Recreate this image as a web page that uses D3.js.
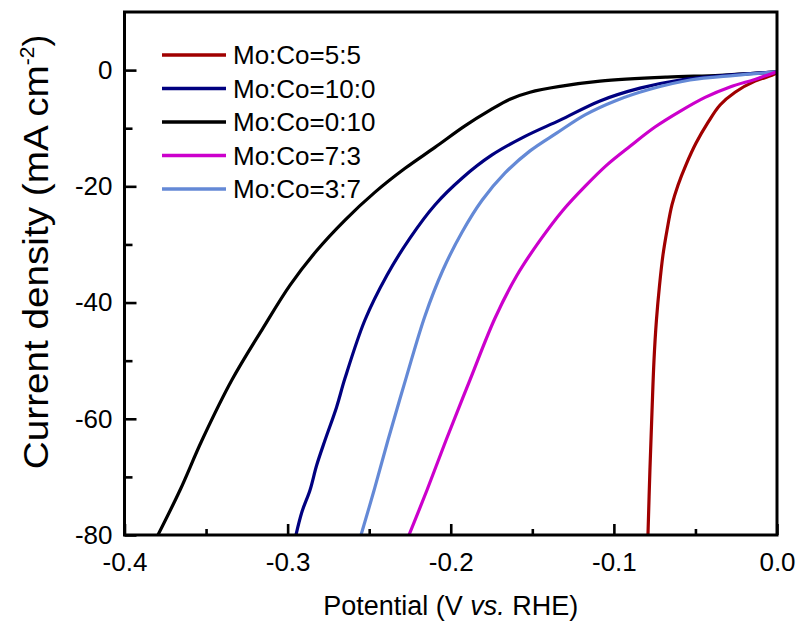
<!DOCTYPE html>
<html>
<head>
<meta charset="utf-8">
<script src="https://cdn.jsdelivr.net/npm/d3@7"></script>
<style>
  html, body { margin: 0; padding: 0; background: #fff; }
  svg { display: block; font-family: Arial, "Liberation Sans", sans-serif; }
</style>
</head>
<body>
<svg id="chart" width="802" height="623"></svg>
<script>
// Polarization curves: potential (V vs. RHE) vs. current density (mA cm^-2)
const seriesNames = ["Mo:Co=5:5", "Mo:Co=10:0", "Mo:Co=0:10", "Mo:Co=7:3", "Mo:Co=3:7"];
const seriesColors = ["#a00000", "#000080", "#000000", "#cc00cc", "#6489d6"];

// [potential, current density]
const mo5co5 = [
  [-0.0791, -80], [-0.0779, -68.8], [-0.0766, -58.5], [-0.0754, -49.9], [-0.0739, -43.0],
  [-0.0720, -37.0], [-0.0699, -31.8], [-0.0674, -27.5], [-0.0644, -23.2], [-0.0607, -19.8],
  [-0.0558, -16.3], [-0.0497, -12.6], [-0.0423, -9.0], [-0.0349, -6.0], [-0.0257, -3.8],
  [-0.0135, -1.9], [-0.0031, -0.9], [0, -0.5]
];
const mo10co0 = [
  [-0.2949, -80], [-0.2912, -76], [-0.2863, -72.3], [-0.2822, -68], [-0.2771, -63.7],
  [-0.2700, -58], [-0.2648, -53.0], [-0.2526, -43.0], [-0.2391, -35.3], [-0.2250, -28.9],
  [-0.2097, -23.2], [-0.1931, -18.6], [-0.1747, -14.6], [-0.1545, -11.4], [-0.1330, -8.6],
  [-0.1085, -5.3], [-0.0840, -3.1], [-0.0595, -1.7], [-0.0349, -1.0], [0, -0.3]
];
const mo0co10 = [
  [-0.3795, -80], [-0.3660, -72.3], [-0.3525, -63.7], [-0.3341, -53.3], [-0.3151, -44.4],
  [-0.2985, -37.0], [-0.2820, -31.0], [-0.2648, -25.8], [-0.2464, -21.0], [-0.2280, -16.9],
  [-0.2097, -13.3], [-0.1913, -9.6], [-0.1759, -6.9], [-0.1637, -5.0], [-0.1514, -3.8],
  [-0.1330, -2.8], [-0.1085, -1.9], [-0.0674, -1.2], [-0.0349, -0.9], [0, -0.3]
];
const mo7co3 = [
  [-0.2256, -80], [-0.2146, -72.3], [-0.2029, -63.7], [-0.1882, -53.3], [-0.1729, -42.7],
  [-0.1594, -35.3], [-0.1453, -29.3], [-0.1312, -24.1], [-0.1177, -20.0], [-0.1042, -16.3],
  [-0.0901, -13.1], [-0.0748, -9.8], [-0.0595, -7.1], [-0.0441, -4.7], [-0.0288, -2.9],
  [-0.0135, -1.6], [-0.0043, -0.7], [0, -0.3]
];
const mo3co7 = [
  [-0.2550, -80], [-0.2470, -72.3], [-0.2385, -63.7], [-0.2274, -53.0], [-0.2158, -42.3],
  [-0.2048, -34.4], [-0.1931, -27.9], [-0.1808, -22.4], [-0.1667, -17.7], [-0.1514, -13.9],
  [-0.1349, -10.8], [-0.1177, -7.7], [-0.0993, -5.3], [-0.0779, -3.3], [-0.0533, -1.7],
  [-0.0257, -0.9], [0, -0.3]
];
const seriesData = [mo5co5, mo10co0, mo0co10, mo7co3, mo3co7];
// drawing order (last on top)
const drawOrder = [2, 1, 4, 0, 3];

const xMajorTicks = [-0.4, -0.3, -0.2, -0.1, 0.0];
const xMinorTicks = [-0.35, -0.25, -0.15, -0.05];
const yMajorTicks = [-80, -60, -40, -20, 0];
const yMinorTicks = [-70, -50, -30, -10];

const svg = d3.select("#chart");
const plotLeft = 124.5, plotRight = 777, plotTop = 12, plotBottom = 535;

const x = d3.scaleLinear().domain([-0.4, 0]).range([plotLeft, plotRight]);
const y = d3.scaleLinear().domain([-80, 10]).range([plotBottom, plotTop]);

// plain hyphen-minus for negative tick labels
const fmtX = v => d3.format(".1f")(v).replace("\u2212", "-");
const fmtY = v => d3.format("d")(v).replace("\u2212", "-");

svg.append("defs").append("clipPath").attr("id", "plotClip")
  .append("rect").attr("x", plotLeft).attr("y", plotTop)
  .attr("width", plotRight - plotLeft).attr("height", plotBottom - plotTop);

// curves
const line = d3.line().x(d => x(d[0])).y(d => y(d[1])).curve(d3.curveCatmullRom.alpha(0.5));
const curves = svg.append("g").attr("clip-path", "url(#plotClip)");
drawOrder.forEach(i => {
  curves.append("path")
    .datum(seriesData[i])
    .attr("d", line)
    .attr("fill", "none")
    .attr("stroke", seriesColors[i])
    .attr("stroke-width", 3.2)
    .attr("stroke-linejoin", "round");
});

// bottom axis (ticks pointing inward)
const xAxis = svg.append("g").attr("transform", `translate(0,${plotBottom})`)
  .call(d3.axisBottom(x).tickValues(xMajorTicks).tickSizeInner(-11).tickSizeOuter(0)
    .tickFormat(fmtX).tickPadding(18));
xAxis.select(".domain").remove();
xAxis.selectAll(".tick line").attr("stroke", "#000").attr("stroke-width", 2.6);
xAxis.selectAll(".tick text").attr("font-size", 26).attr("fill", "#000")
  .attr("font-family", "Arial, 'Liberation Sans', sans-serif");
const xMinor = svg.append("g").attr("transform", `translate(0,${plotBottom})`)
  .call(d3.axisBottom(x).tickValues(xMinorTicks).tickSizeInner(-6).tickSizeOuter(0).tickFormat(""));
xMinor.select(".domain").remove();
xMinor.selectAll(".tick line").attr("stroke", "#000").attr("stroke-width", 2.6);

// left axis
const yAxis = svg.append("g").attr("transform", `translate(${plotLeft},0)`)
  .call(d3.axisLeft(y).tickValues(yMajorTicks).tickSizeInner(-12).tickSizeOuter(0)
    .tickFormat(fmtY).tickPadding(12));
yAxis.select(".domain").remove();
yAxis.selectAll(".tick line").attr("stroke", "#000").attr("stroke-width", 2.6);
yAxis.selectAll(".tick text").attr("font-size", 26).attr("fill", "#000")
  .attr("font-family", "Arial, 'Liberation Sans', sans-serif");
const yMinor = svg.append("g").attr("transform", `translate(${plotLeft},0)`)
  .call(d3.axisLeft(y).tickValues(yMinorTicks).tickSizeInner(-8).tickSizeOuter(0).tickFormat(""));
yMinor.select(".domain").remove();
yMinor.selectAll(".tick line").attr("stroke", "#000").attr("stroke-width", 2.6);

// frame
svg.append("rect")
  .attr("x", plotLeft).attr("y", plotTop)
  .attr("width", plotRight - plotLeft).attr("height", plotBottom - plotTop)
  .attr("fill", "none").attr("stroke", "#000").attr("stroke-width", 3);

// axis titles
const xTitle = svg.append("text")
  .attr("x", (plotLeft + plotRight) / 2).attr("y", 615)
  .attr("text-anchor", "middle").attr("font-size", 27).attr("fill", "#000");
xTitle.append("tspan").text("Potential (V ");
xTitle.append("tspan").attr("font-style", "italic").text("vs.");
xTitle.append("tspan").text(" RHE)");

const yTitle = svg.append("text")
  .attr("transform", "translate(48,252) rotate(-90)")
  .attr("text-anchor", "middle").attr("font-size", 35).attr("fill", "#000");
yTitle.append("tspan").text("Current density (mA cm")
  .attr("textLength", 404).attr("lengthAdjust", "spacingAndGlyphs");
yTitle.append("tspan").attr("font-size", 21).attr("dy", -14).text("-2");
yTitle.append("tspan").attr("dy", 14).text(")");

// legend
const legend = svg.append("g");
seriesNames.forEach((name, i) => {
  const ly = 55 + i * 33.5;
  legend.append("line")
    .attr("x1", 162).attr("x2", 226).attr("y1", ly).attr("y2", ly)
    .attr("stroke", seriesColors[i]).attr("stroke-width", 3.5);
  legend.append("text")
    .attr("x", 233).attr("y", ly).attr("dy", "0.35em")
    .attr("font-size", 26).attr("fill", "#000").text(name);
});
</script>
</body>
</html>
